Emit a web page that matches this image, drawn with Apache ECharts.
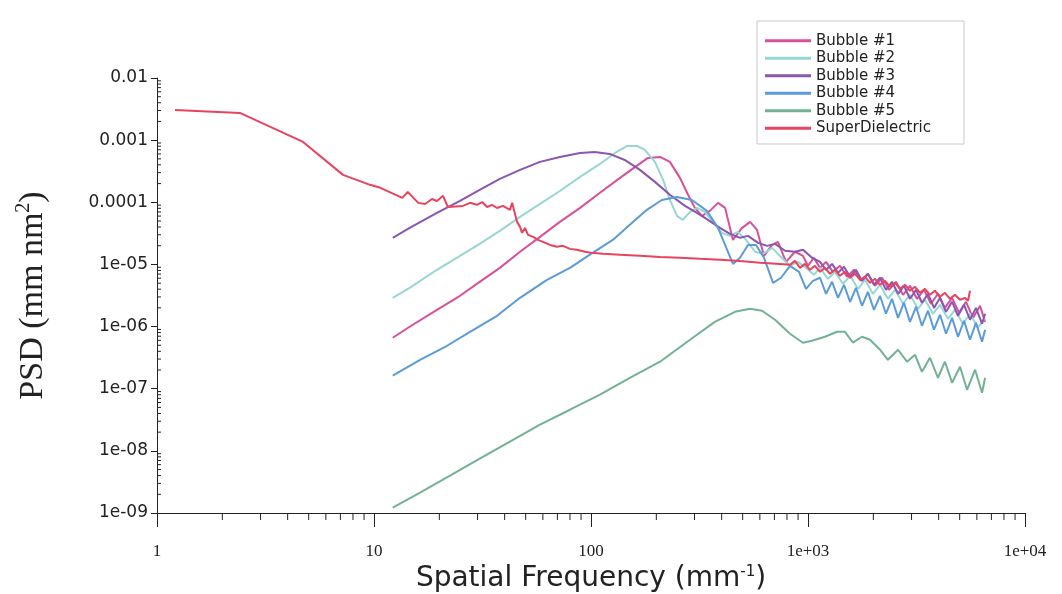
<!DOCTYPE html>
<html><head><meta charset="utf-8">
<script src="https://cdn.jsdelivr.net/npm/echarts@6/dist/echarts.min.js"></script>
<style>html,body{margin:0;padding:0;background:#fff}#c{width:1062px;height:594px}</style>
</head><body><div id="c"></div>
<script>
// ---- tick labels ----
const xTickLabels = ['1', '10', '100', '1e+03', '1e+04'];          // 10^0 .. 10^4
const yTickLabels = ['1e-09', '1e-08', '1e-07', '1e-06', '1e-05', '0.0001', '0.001', '0.01']; // 10^-9 .. 10^-2
const xMinorTicks = [2,3,4,5,6,7,8,9,20,30,40,50,60,70,80,90,200,300,400,500,600,700,800,900,2000,3000,4000,5000,6000,7000,8000,9000];
const yMinorTicks = [2e-9,3e-9,4e-9,5e-9,6e-9,7e-9,8e-9,9e-9,2e-8,3e-8,4e-8,5e-8,6e-8,7e-8,8e-8,9e-8,2e-7,3e-7,4e-7,5e-7,6e-7,7e-7,8e-7,9e-7,2e-6,3e-6,4e-6,5e-6,6e-6,7e-6,8e-6,9e-6,2e-5,3e-5,4e-5,5e-5,6e-5,7e-5,8e-5,9e-5,2e-4,3e-4,4e-4,5e-4,6e-4,7e-4,8e-4,9e-4,2e-3,3e-3,4e-3,5e-3,6e-3,7e-3,8e-3,9e-3];

// ---- series names ----
const seriesNames = ['Bubble #1', 'Bubble #2', 'Bubble #3', 'Bubble #4', 'Bubble #5', 'SuperDielectric'];

// ---- Bubble #1 ----
const b1Freq = [12.2,14.6,19.5,24.9,30.7,38.0,47.1,58.2,71.9,89,110,136,160,183,208,231,257,280,301,325,353,385,415,451,497,541,582,627,683,727,792,871,948,1000,1064,1136,1211,1303,1404,1514,1630,1754,1888,2037,2193,2361,2543,2741,2951,3177,3425,3689,3972,4276,4613,4966,5347,5758,6204,6547];
const b1Psd = [6.6e-7,9.93e-7,1.86e-6,3.13e-6,5.25e-6,8.8e-6,1.6e-5,2.78e-5,4.84e-5,8.13e-5,1.42e-4,2.47e-4,3.71e-4,5.18e-4,5.37e-4,4.47e-4,2.47e-4,1.32e-4,8.13e-5,6.04e-5,7.28e-5,9.78e-5,8.13e-5,2.48e-5,3.87e-5,4.84e-5,3.6e-5,1.37e-5,2.06e-5,2.31e-5,1.1e-5,1.6e-5,1.37e-5,9.5e-6,1.28e-5,8.8e-6,1.1e-5,7.6e-6,9.5e-6,6.32e-6,8.2e-6,5.45e-6,7.06e-6,4.53e-6,6.1e-6,3.9e-6,5.25e-6,3.24e-6,4.53e-6,2.8e-6,3.9e-6,2.33e-6,3.37e-6,2.0e-6,2.9e-6,1.67e-6,2.5e-6,1.38e-6,2.16e-6,1.19e-6];

// ---- Bubble #2 ----
const b2Freq = [12.2,14.6,19.5,24.9,30.7,38.0,47.1,58.2,71.9,89,110,129,147,163,177,197,215,231,249,265,286,308,335,365,401,437,476,518,570,620,683,743,826,899,979,1064,1136,1236,1331,1449,1563,1700,1832,1993,2147,2335,2518,2741,2951,3212,3459,3767,4059,4418,4753,5176,5580,6072,6547];
const b2Psd = [2.9e-6,4.2e-6,8.2e-6,1.37e-5,2.14e-5,3.47e-5,5.82e-5,9.42e-5,1.52e-4,2.56e-4,4.14e-4,6.22e-4,8.07e-4,8.07e-4,6.95e-4,4.47e-4,2.29e-4,1.09e-4,6.04e-5,5.21e-5,7.01e-5,8.13e-5,7.01e-5,4.84e-5,3.22e-5,2.88e-5,3.34e-5,2.48e-5,1.6e-5,1.48e-5,1.85e-5,1.37e-5,9.5e-6,1.1e-5,8.8e-6,6.8e-6,8.8e-6,5.87e-6,7.6e-6,4.88e-6,6.56e-6,4.05e-6,5.65e-6,3.37e-6,4.7e-6,2.8e-6,3.9e-6,2.33e-6,3.24e-6,1.93e-6,2.7e-6,1.61e-6,2.24e-6,1.33e-6,1.86e-6,1.11e-6,1.61e-6,9.6e-7,1.38e-6];

// ---- Bubble #3 ----
const b3Freq = [12.2,14.6,19.5,24.9,30.7,38.0,47.1,58.2,71.9,89,104,122,143,168,197,231,271,308,346,393,437,486,529,589,648,705,784,871,948,1043,1136,1211,1291,1375,1465,1563,1663,1774,1888,2014,2147,2287,2438,2600,2768,2951,3148,3350,3573,3808,4059,4325,4613,4912,5236,5580,5943,6339,6547];
const b3Psd = [2.68e-5,3.87e-5,6.76e-5,1.05e-4,1.58e-4,2.38e-4,3.32e-4,4.47e-4,5.37e-4,6.23e-4,6.46e-4,6.0e-4,4.8e-4,3.32e-4,2.13e-4,1.32e-4,8.75e-5,6.76e-5,5.21e-5,3.87e-5,3.1e-5,2.68e-5,2.88e-5,2.22e-5,1.99e-5,2.14e-5,1.66e-5,1.6e-5,1.72e-5,1.28e-5,1.1e-5,8.2e-6,1.02e-5,7.3e-6,9.16e-6,6.32e-6,8.2e-6,5.45e-6,7.06e-6,4.7e-6,6.1e-6,3.9e-6,5.25e-6,3.37e-6,4.53e-6,2.8e-6,3.9e-6,2.42e-6,3.37e-6,2.0e-6,2.9e-6,1.73e-6,2.5e-6,1.49e-6,2.24e-6,1.29e-6,2.0e-6,1.11e-6,1.61e-6];

// ---- Bubble #4 ----
const b4Freq = [12.2,16.3,21.7,27.7,36.9,47.1,62.7,80.0,100,126,151,181,212,249,292,342,385,424,451,486,529,576,627,690,751,826,909,979,1054,1136,1211,1291,1375,1465,1563,1663,1774,1888,2014,2147,2287,2438,2600,2768,2951,3148,3350,3573,3808,4059,4325,4613,4912,5236,5580,5943,6339,6547];
const b4Psd = [1.62e-7,2.92e-7,4.91e-7,8.24e-7,1.49e-6,2.9e-6,5.65e-6,8.8e-6,1.48e-5,2.48e-5,4.34e-5,7.55e-5,1.09e-4,1.22e-4,1.09e-4,7.28e-5,3.87e-5,1.72e-5,1.02e-5,1.28e-5,2.06e-5,2.06e-5,1.28e-5,5.06e-6,6.1e-6,9.5e-6,7.6e-6,4.05e-6,5.45e-6,6.1e-6,3.37e-6,5.25e-6,2.9e-6,4.7e-6,2.5e-6,4.2e-6,2.16e-6,3.62e-6,1.86e-6,3.13e-6,1.61e-6,2.8e-6,1.38e-6,2.42e-6,1.19e-6,2.08e-6,1.03e-6,1.8e-6,8.89e-7,1.55e-6,7.66e-7,1.38e-6,6.85e-7,1.24e-6,6.14e-7,1.15e-6,5.7e-7,8.89e-7];

// ---- Bubble #5 ----
const b5Freq = [12.2,16.3,22.4,30.7,42.3,58.2,80.0,110,151,208,286,372,461,541,614,705,826,948,1043,1197,1361,1480,1611,1774,1932,2147,2335,2600,2858,3112,3350,3648,3972,4276,4613,5019,5406,5888,6339,6547];
const b5Psd = [1.22e-9,2.13e-9,3.99e-9,7.5e-9,1.41e-8,2.64e-8,4.59e-8,8.02e-8,1.5e-7,2.72e-7,6.14e-7,1.19e-6,1.73e-6,1.93e-6,1.8e-6,1.29e-6,7.66e-7,5.5e-7,5.92e-7,6.85e-7,8.24e-7,8.24e-7,5.5e-7,6.85e-7,6.14e-7,4.24e-7,2.92e-7,4.24e-7,2.72e-7,3.52e-7,1.87e-7,3.15e-7,1.5e-7,2.72e-7,1.25e-7,2.26e-7,9.6e-8,2.02e-7,8.63e-8,1.5e-7];

// ---- SuperDielectric ----
const sdFreq = [1.21,2.41,4.71,7.2,9.59,10.7,13.5,14.3,16.0,17.2,18.5,19.5,20.8,21.9,25.7,27.7,29.8,31.5,33.2,35.0,36.9,39.3,42.3,43.3,45.6,47.1,48.1,49.6,51.3,54.1,57.0,60.1,64.7,69.7,74.3,80.0,86.1,93.8,100,113.5,136,168,208,257,318,393,486,601,743,826,871,919,968,1021,1076,1136,1197,1262,1331,1404,1480,1563,1648,1737,1832,1932,2037,2147,2265,2388,2518,2655,2799,2951,3112,3283,3459,3648,3846,4059,4276,4508,4753,5019,5297,5460,5580];
const sdPsd = [3.06e-3,2.74e-3,9.35e-4,2.76e-4,1.91e-4,1.71e-4,1.18e-4,1.47e-4,9.78e-5,9.4e-5,1.13e-4,1.05e-4,1.27e-4,8.4e-5,8.75e-5,9.8e-5,9.1e-5,1.01e-4,8.4e-5,9.1e-5,8.1e-5,8.75e-5,7.55e-5,9.8e-5,4.84e-5,4.02e-5,3.22e-5,3.87e-5,2.99e-5,2.78e-5,2.48e-5,2.31e-5,2.06e-5,1.92e-5,1.99e-5,1.78e-5,1.72e-5,1.6e-5,1.54e-5,1.48e-5,1.43e-5,1.38e-5,1.32e-5,1.28e-5,1.23e-5,1.19e-5,1.14e-5,1.06e-5,1.02e-5,9.86e-6,1.14e-5,8.8e-6,1.02e-5,8.2e-6,9.5e-6,7.6e-6,8.8e-6,7.06e-6,8.2e-6,6.56e-6,7.6e-6,6.1e-6,7.06e-6,5.65e-6,6.32e-6,5.06e-6,5.87e-6,4.7e-6,5.45e-6,4.36e-6,5.06e-6,4.05e-6,4.7e-6,3.77e-6,4.36e-6,3.49e-6,4.05e-6,3.24e-6,3.77e-6,3.01e-6,3.49e-6,2.8e-6,3.24e-6,2.7e-6,2.9e-6,2.6e-6,3.77e-6];

const seriesColors = ['#d6519a', '#98d6d3', '#8a56b0', '#5b9cd8', '#72b293', '#e8435f'];

function zip(a, b) { return a.map((v, i) => [v, b[i]]); }
const allData = [zip(b1Freq, b1Psd), zip(b2Freq, b2Psd), zip(b3Freq, b3Psd), zip(b4Freq, b4Psd), zip(b5Freq, b5Psd), zip(sdFreq, sdPsd)];

const chart = echarts.init(document.getElementById('c'), null, { renderer: 'canvas' });

const lineSeries = seriesNames.map((n, i) => ({
  name: n, type: 'line', data: allData[i], showSymbol: false, symbol: 'none',
  lineStyle: { color: seriesColors[i], width: 2 }, itemStyle: { color: seriesColors[i] },
  z: 3 + i
}));

const xMinorSeries = {
  type: 'custom', silent: true, clip: false, z: 10,
  data: xMinorTicks.map(v => [v, 1e-9]),
  renderItem: function (params, api) {
    const p = api.coord([api.value(0), api.value(1)]);
    return { type: 'line', shape: { x1: p[0], y1: p[1], x2: p[0], y2: p[1] + 7 }, style: { stroke: '#222', lineWidth: 1 } };
  }
};
const yMinorSeries = {
  type: 'custom', silent: true, clip: false, z: 10,
  data: yMinorTicks.map(v => [1, v]),
  renderItem: function (params, api) {
    const p = api.coord([api.value(0), api.value(1)]);
    return { type: 'line', shape: { x1: p[0], y1: p[1], x2: p[0] + 4, y2: p[1] }, style: { stroke: '#222', lineWidth: 1 } };
  }
};

chart.setOption({
  backgroundColor: '#ffffff',
  animation: false,
  grid: { left: 157, top: 78, width: 868, height: 435, containLabel: false, outerBoundsMode: 'none' },
  legend: {
    data: seriesNames, orient: 'vertical', left: 757, top: 21,
    padding: [11, 33, 7, 8], itemGap: 0, itemWidth: 46, itemHeight: 3, icon: 'rect',
    borderColor: '#c8c8c8', borderWidth: 1, backgroundColor: '#fff',
    textStyle: { fontFamily: 'DejaVu Sans', fontSize: 15, color: '#222', lineHeight: 17.5 }
  },
  xAxis: {
    type: 'log', logBase: 10, min: 1, max: 10000, splitNumber: 4,
    name: '{a|Spatial Frequency (mm}{s|-1}{a|)}', nameLocation: 'middle', nameGap: 45,
    nameTextStyle: { rich: { a: { fontFamily: 'DejaVu Sans', fontSize: 28, color: '#222' }, s: { fontFamily: 'DejaVu Sans', fontSize: 15, color: '#222', padding: [0, 0, 13, 0] } } },
    axisLine: { lineStyle: { color: '#222', width: 1 } },
    axisTick: { show: true, length: 14, lineStyle: { color: '#222' } },
    splitLine: { show: false },
    axisLabel: {
      margin: 30, fontFamily: 'Liberation Serif', fontSize: 17, color: '#222',
      formatter: v => xTickLabels[Math.round(Math.log10(v))]
    }
  },
  yAxis: {
    type: 'log', logBase: 10, min: 1e-9, max: 0.01, splitNumber: 7,
    name: '{a|PSD (mm nm}{s|2}{a|)}', nameLocation: 'middle', nameGap: 105,
    nameTextStyle: { rich: { a: { fontFamily: 'Liberation Serif', fontSize: 34, color: '#222' }, s: { fontFamily: 'Liberation Serif', fontSize: 20, color: '#222', padding: [0, 0, 18, 0] } } },
    axisLine: { show: true, lineStyle: { color: '#222', width: 1 } },
    axisTick: { show: true, length: 6, lineStyle: { color: '#222' } },
    splitLine: { show: false },
    axisLabel: {
      margin: 9, fontFamily: 'DejaVu Sans', fontSize: 17, color: '#222',
      formatter: v => yTickLabels[Math.round(Math.log10(v)) + 9]
    }
  },
  series: lineSeries.concat([xMinorSeries, yMinorSeries])
});
</script>
</body></html>
